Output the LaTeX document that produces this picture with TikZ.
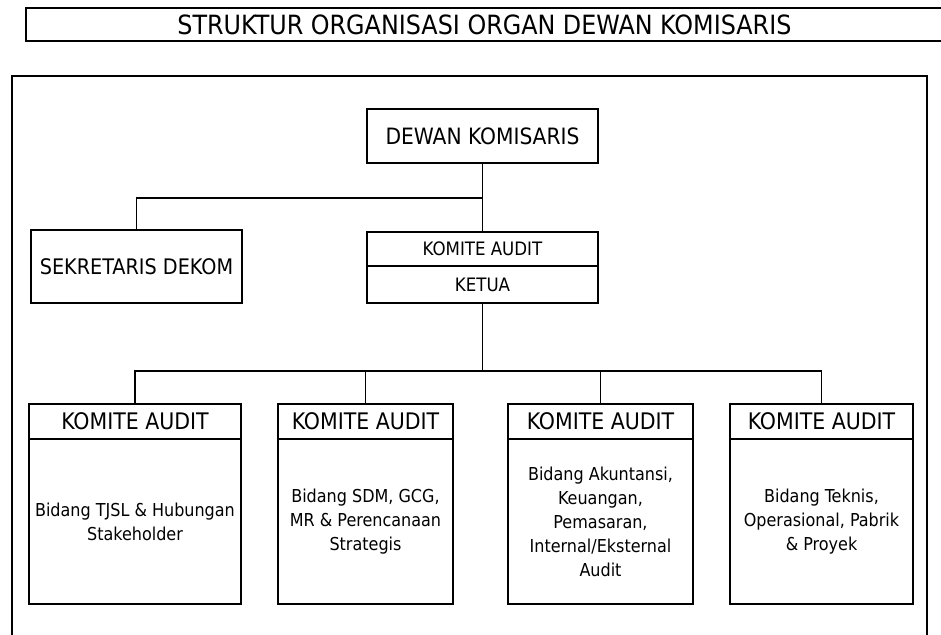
\documentclass[tikz,border=0pt]{standalone}
\usepackage{fontspec}
\setmainfont{DejaVu Sans Condensed}
\begin{document}
\begin{tikzpicture}[x=1pt,y=1pt,
  box/.style={draw,line width=1.8pt,rectangle,inner sep=0pt,align=center},
  big/.style={font=\fontsize{22.5}{26}\selectfont},
  hdr/.style={font=\fontsize{22.8}{26}\selectfont},
  mid/.style={font=\fontsize{18.5}{22}\selectfont},
  body/.style={font=\fontsize{17.8}{24}\selectfont},
  conn/.style={line width=1.8pt}]
\useasboundingbox (0,0) rectangle (941,-634);
% title frame
\draw[line width=1.3pt] (950,-8) -- (26,-8) -- (26,-41) -- (950,-41);
\node[font=\fontsize{26.5}{30}\selectfont] (title) at (484.5,-25) {STRUKTUR ORGANISASI ORGAN DEWAN KOMISARIS};
% outer frame
\draw[line width=2.2pt] (12,-640) -- (12,-76) -- (927,-76) -- (927,-640);
% top level
\node[box,big,minimum width=231pt,minimum height=54pt] (dewan) at (482.5,-136) {DEWAN KOMISARIS};
\node[box,font=\fontsize{21.4}{26}\selectfont,minimum width=211pt,minimum height=73pt] (sek) at (136.5,-266.5) {SEKRETARIS DEKOM};
\node[box,mid,minimum width=231pt,minimum height=34pt] (kat) at (482.5,-249) {KOMITE AUDIT};
\node[box,mid,minimum width=231pt,minimum height=37pt] (kab) at (482.5,-284.5) {KETUA};
% bottom boxes: headers
\node[box,hdr,minimum width=212pt,minimum height=35pt] (h1) at (135,-421.5) {KOMITE AUDIT};
\node[box,hdr,minimum width=175pt,minimum height=35pt] (h2) at (365.5,-421.5) {KOMITE AUDIT};
\node[box,hdr,minimum width=185pt,minimum height=35pt] (h3) at (600.5,-421.5) {KOMITE AUDIT};
\node[box,hdr,minimum width=183pt,minimum height=35pt] (h4) at (821.5,-421.5) {KOMITE AUDIT};
% bottom boxes: bodies
\node[box,body,minimum width=212pt,minimum height=165pt] (d1) at (135,-521.5) {Bidang TJSL \& Hubungan\\Stakeholder};
\node[box,body,minimum width=175pt,minimum height=165pt] (d2) at (365.5,-521.5) {Bidang SDM, GCG,\\MR \& Perencanaan\\Strategis};
\node[box,body,minimum width=185pt,minimum height=165pt] (d3) at (600.5,-521.5) {Bidang Akuntansi,\\Keuangan,\\Pemasaran,\\Internal/Eksternal\\Audit};
\node[box,body,minimum width=183pt,minimum height=165pt] (d4) at (821.5,-521.5) {Bidang Teknis,\\Operasional, Pabrik\\\& Proyek};
% connectors
\coordinate (j1) at (482.5,-198);
\coordinate (j2) at (482.5,-371);
\draw[conn] (dewan.south) -- (j1) -| (sek.north);
\draw[conn] (j1) -- (kat.north);
\draw[conn] (kab.south) -- (j2);
\draw[conn] (h1.north) |- (j2) -| (h4.north);
\draw[conn] (h2.north) -- (h2.north |- j2);
\draw[conn] (h3.north) -- (h3.north |- j2);
\end{tikzpicture}
\end{document}
